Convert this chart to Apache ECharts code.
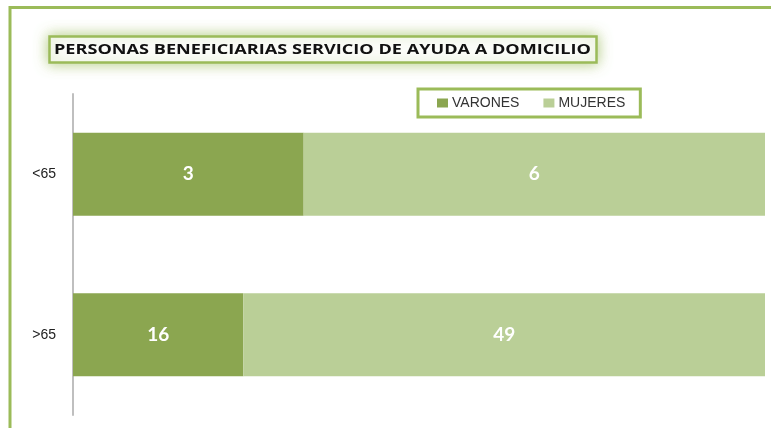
<!DOCTYPE html>
<html>
<head>
<meta charset="utf-8">
<script src="https://cdn.jsdelivr.net/npm/echarts@6/dist/echarts.min.js"></script>
<style>html,body{margin:0;padding:0;background:#fff;}#c{width:771px;height:428px;}</style>
</head>
<body>
<div id="c"></div>
<script>
const titleText = 'PERSONAS BENEFICIARIAS SERVICIO DE AYUDA A DOMICILIO';
const categories = ['<65', '>65'];
const seriesNames = ['VARONES', 'MUJERES'];
const varones = [3, 16];
const mujeres = [6, 49];

const totals = categories.map((c, i) => varones[i] + mujeres[i]);
const pct = arr => arr.map((v, i) => v / totals[i] * 100);
const raw = [varones, mujeres];
const colors = ['#8ba650', '#bacf97'];

// fit title text to the reference's width
const titleFont = 'bold 15px "Open Sans"';
const ctx = document.createElement('canvas').getContext('2d');
ctx.font = titleFont;
const titleW = ctx.measureText(titleText).width || 537;
const titleScale = 537 / titleW;

const chart = echarts.init(document.getElementById('c'));
chart.setOption({
  animation: false,
  backgroundColor: '#fff',
  color: colors,
  grid: { left: 73, right: 6, top: 94, bottom: 13, containLabel: false },
  legend: {
    data: seriesNames,
    left: 418, top: 89,
    orient: 'horizontal',
    padding: [7, 15, 7, 19],
    itemGap: 24,
    itemWidth: 11, itemHeight: 9,
    icon: 'rect',
    borderColor: '#9bbb59', borderWidth: 3,
    textStyle: { fontFamily: 'Liberation Sans', fontSize: 14, color: '#333', padding: [0, 0, 0, -1] }
  },
  xAxis: { type: 'value', min: 0, max: 100, show: false },
  yAxis: {
    type: 'category', data: categories, inverse: true,
    axisLine: { show: true, lineStyle: { color: '#bfbfbf', width: 2 } },
    axisTick: { show: false },
    axisLabel: { color: '#222', fontFamily: 'Liberation Sans', fontSize: 14, margin: 17 }
  },
  series: seriesNames.map((name, k) => ({
    name, type: 'bar', stack: 'total', barWidth: 83,
    data: pct(raw[k]),
    itemStyle: { color: colors[k] },
    label: {
      show: true, position: 'inside', color: '#fff',
      fontFamily: 'Lato', fontWeight: 'bold', fontSize: 19,
      formatter: p => raw[k][p.dataIndex]
    }
  })),
  graphic: [
    { type: 'rect', shape: { x: 10, y: 7.5, width: 820, height: 500 }, style: { fill: 'none', stroke: '#9bbb59', lineWidth: 3 }, silent: true },
    { type: 'rect', shape: { x: 49.5, y: 36.5, width: 547, height: 26 },
      style: { fill: '#fff', stroke: '#9bbb59', lineWidth: 2.5, shadowBlur: 14, shadowColor: 'rgba(155,187,89,0.75)' }, silent: true },
    { type: 'text', x: 322.5, y: 50, scaleX: titleScale,
      style: { x: 0, y: 0, text: titleText, fill: '#111', font: titleFont, align: 'center', verticalAlign: 'middle' }, silent: true }
  ]
});
</script>
</body>
</html>
